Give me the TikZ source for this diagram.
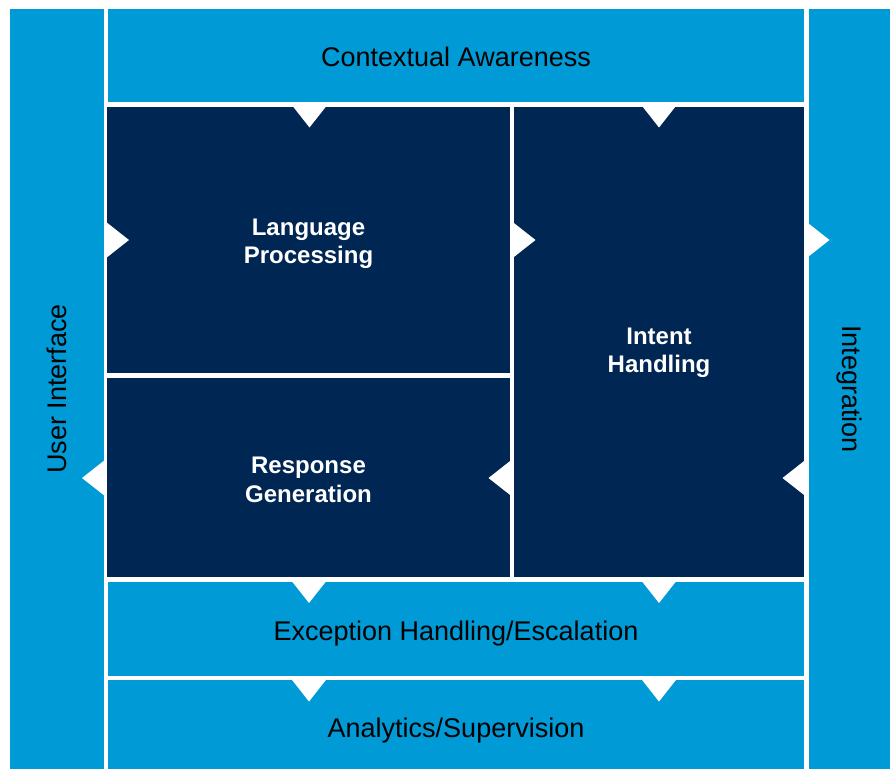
\documentclass[tikz,border=0pt]{standalone}
\usepackage{fontspec}
\setmainfont{Liberation Sans}
\definecolor{skyband}{RGB}{0,154,214}
\definecolor{navycore}{RGB}{0,38,83}
% white arrow notches cut into the gaps between panels
\newcommand\notchdown[2]{\fill[notch] (#1-18.5,#2) -- (#1+18.5,#2) -- (#1,#2+23.5) -- cycle;}
\newcommand\notchright[2]{\fill[notch] (#1,#2-18.5) -- (#1,#2+18.5) -- (#1+23.5,#2) -- cycle;}
\newcommand\notchleft[2]{\fill[notch] (#1,#2-18.5) -- (#1,#2+18.5) -- (#1-23.5,#2) -- cycle;}
% lower a caption by #1 while keeping its reported size
\newcommand\dropby[2]{\raisebox{#1}[\height][\depth]{#2}}
% two-line caption for the dark blocks, lowered by #1
\newcommand\corelabel[3]{\dropby{#1}{\begin{tabular}{@{}c@{}}#2\\#3\end{tabular}}}
\begin{document}
\begin{tikzpicture}[x=1pt,y=-1pt,
  band/.style={fill=skyband, draw=none, inner sep=0pt, text=black,
    font=\fontsize{27}{30}\selectfont},
  core/.style={fill=navycore, draw=none, inner sep=0pt, text=white,
    font=\bfseries\fontsize{24}{28.5}\selectfont},
  notch/.style={fill=white}]
  % canvas
  \fill[white] (0,0) rectangle (890,769);
  \useasboundingbox (0,0) rectangle (890,769);

  % outer frame bands
  \node[band, minimum width=93.5pt, minimum height=760pt] (ui) at (56.75,389) {\rotatebox{90}{User Interface}};
  \node[band, minimum width=81.5pt, minimum height=760pt] (ig) at (849.25,389) {\rotatebox{-90}{Integration}};
  \node[band, minimum width=696pt, minimum height=93pt] (ca) at (456,55.5) {\dropby{-1pt}{Contextual Awareness}};
  \node[band, minimum width=696pt, minimum height=94pt] (eh) at (456,628.5) {\dropby{-5pt}{Exception Handling/Escalation}};
  \node[band, minimum width=696pt, minimum height=89pt] (an) at (456,724.5) {\dropby{-6pt}{Analytics/Supervision}};

  % core blocks
  \node[core, minimum width=403pt, minimum height=266.5pt] (lp) at (308.5,239.75) {\corelabel{-4pt}{Language}{Processing}};
  \node[core, minimum width=403pt, minimum height=199.5pt] (rg) at (308.5,477.25) {\corelabel{-5pt}{Response}{Generation}};
  \node[core, minimum width=290pt, minimum height=470.5pt] (ih) at (659,341.75) {\corelabel{-11pt}{Intent}{Handling}};

  % flow markers
  \notchdown{309.5}{104}
  \notchdown{659}{104}
  \notchright{105.5}{240}
  \notchright{512}{240}
  \notchright{806}{240}
  \notchleft{105.5}{478}
  \notchleft{512}{478}
  \notchleft{806}{478}
  \notchdown{309}{579.5}
  \notchdown{659}{579.5}
  \notchdown{309}{678}
  \notchdown{659}{678}
\end{tikzpicture}
\end{document}
